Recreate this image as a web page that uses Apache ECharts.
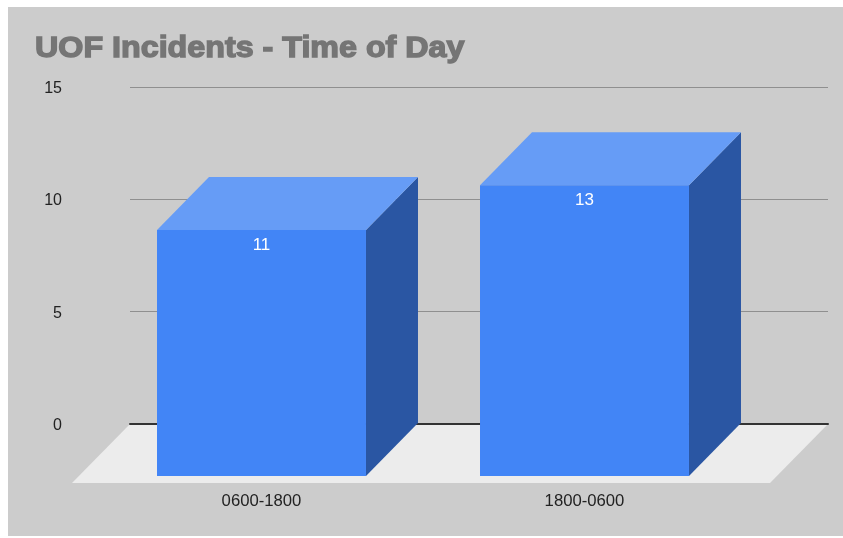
<!DOCTYPE html>
<html>
<head>
<meta charset="utf-8">
<style>
  html, body { margin: 0; padding: 0; background: #ffffff; }
  #panel { position: absolute; left: 8px; top: 7px; width: 835px; height: 529px; background: #cccccc; }
  #chart { position: absolute; left: 0; top: 0; width: 843px; height: 538px; }
</style>
<script src="https://cdn.jsdelivr.net/npm/echarts@6/dist/echarts.min.js"></script>
</head>
<body>
<div id="panel"></div>
<div id="chart"></div>
<script>
// Use-of-force incidents by shift, drawn as extruded columns on a floor.
const chartTitle = 'UOF Incidents - Time of Day';
const shifts = ['0600-1800', '1800-0600'];
const incidents = [11, 13];
const valueMin = 0;
const valueMax = 15;
const valueStep = 5;

const FONT = '"Liberation Sans", Arial, sans-serif';
const DEPTH_X = 52;
const DEPTH_Y = 53;
const FLOOR_X = 58;
const FLOOR_Y = 59;
const COLUMN_SHARE = 0.647;

function renderFloor(params, api) {
  const back = api.coord([0, valueMin]);
  const backEnd = api.coord([1, valueMin]);
  return {
    type: 'polygon',
    shape: {
      points: [
        [back[0], back[1]],
        [backEnd[0], backEnd[1]],
        [backEnd[0] - FLOOR_X, backEnd[1] + FLOOR_Y],
        [back[0] - FLOOR_X, back[1] + FLOOR_Y]
      ]
    },
    style: { fill: '#ececec' }
  };
}

function renderColumn(params, api) {
  const value = api.value(1);
  const top = api.coord([api.value(0), value]);
  const base = api.coord([api.value(0), valueMin]);
  const width = api.size([1, 0])[0] * COLUMN_SHARE;
  const left = top[0] - width / 2;
  const right = top[0] + width / 2;
  return {
    type: 'group',
    children: [
      {
        type: 'polygon',
        shape: { points: [
          [right, top[1]], [right + DEPTH_X, top[1] - DEPTH_Y],
          [right + DEPTH_X, base[1] - DEPTH_Y], [right, base[1]]
        ] },
        style: { fill: '#2a56a3' }
      },
      {
        type: 'polygon',
        shape: { points: [
          [left, top[1]], [left + DEPTH_X, top[1] - DEPTH_Y],
          [right + DEPTH_X, top[1] - DEPTH_Y], [right, top[1]]
        ] },
        style: { fill: '#669cf6' }
      },
      {
        type: 'rect',
        shape: { x: left, y: top[1], width: width, height: base[1] - top[1] },
        style: { fill: '#4285f6' }
      },
      {
        type: 'text',
        x: top[0],
        y: top[1] + 15,
        style: {
          text: String(value),
          fill: '#ffffff',
          font: '17px ' + FONT,
          align: 'center',
          verticalAlign: 'middle'
        }
      }
    ]
  };
}

const chart = echarts.init(document.getElementById('chart'), null, { renderer: 'canvas' });
chart.setOption({
  animation: false,
  backgroundColor: 'transparent',
  graphic: [
    {
      type: 'text',
      x: 35,
      y: 34,
      scaleX: 1.075,
      style: {
        text: chartTitle,
        fill: '#757575',
        stroke: '#757575',
        lineWidth: 1.4,
        font: 'bold 30px ' + FONT
      }
    }
  ],
  grid: [
    { left: 130, top: 87, width: 698, height: 337 },
    { left: 100, top: 140.5, width: 646, height: 335.5 }
  ],
  xAxis: [
    {
      gridIndex: 0,
      type: 'value',
      min: 0,
      max: 1,
      z: 3,
      splitLine: { show: false },
      axisTick: { show: false },
      axisLabel: { show: false },
      axisLine: { show: true, onZero: false, lineStyle: { color: '#333333', width: 2 } }
    },
    {
      gridIndex: 1,
      type: 'category',
      data: shifts,
      axisTick: { show: false },
      axisLine: { show: false },
      axisLabel: { color: '#222222', fontFamily: FONT, fontSize: 16.7, margin: 17 }
    }
  ],
  yAxis: [
    {
      gridIndex: 0,
      type: 'value',
      min: valueMin,
      max: valueMax,
      interval: valueStep,
      axisLine: { show: false },
      axisTick: { show: false },
      axisLabel: {
        margin: 68,
        formatter: '{tick|{value}}',
        rich: {
          tick: { color: '#222222', fontFamily: FONT, fontSize: 16, padding: [3, 0, 0, 0] }
        }
      },
      splitLine: { lineStyle: { color: '#8f8f8f', width: 1.2 } }
    },
    {
      gridIndex: 1,
      type: 'value',
      min: valueMin,
      max: valueMax,
      interval: valueStep,
      axisLine: { show: false },
      axisTick: { show: false },
      axisLabel: { show: false },
      splitLine: { show: false }
    }
  ],
  series: [
    {
      type: 'custom',
      xAxisIndex: 0,
      yAxisIndex: 0,
      z: 1,
      silent: true,
      renderItem: renderFloor,
      data: [[0, valueMin]]
    },
    {
      type: 'custom',
      xAxisIndex: 1,
      yAxisIndex: 1,
      z: 5,
      renderItem: renderColumn,
      encode: { x: 0, y: 1 },
      data: incidents.map((v, i) => [i, v])
    }
  ]
});
</script>
</body>
</html>
